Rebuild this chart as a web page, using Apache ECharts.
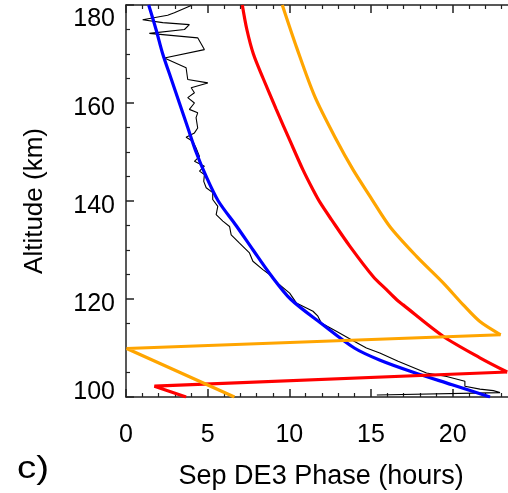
<!DOCTYPE html>
<html>
<head>
<meta charset="utf-8">
<script src="https://cdn.jsdelivr.net/npm/echarts@6/dist/echarts.min.js"></script>
<style>
html,body{margin:0;padding:0;background:#fff;}
#chart{width:508px;height:493px;}
</style>
</head>
<body>
<div id="chart"></div>
<script>
// ---- data (phase in hours, altitude in km) ----
const obsPhase = [3.99,2.96,2.55,1.02,2.25,3.88,3.58,1.43,4.39,4.80,2.35,3.68,3.78,5.01,3.99,4.19,3.78,4.19,3.88,4.39,4.29,4.39,4.19,3.68,4.09,4.29,4.50,4.19,4.80,4.50,4.80,4.76,4.91,5.31,5.31,5.62,5.52,5.93,6.34,6.44,6.95,7.56,7.77,8.38,8.79,9.40,10.02,10.43,11.45,11.75,11.96,12.88,13.80,14.72,15.54,16.66,18.40,19.63,20.75,20.75,21.67,22.49,22.90,15.36];
const obsAlt   = [179.9,178.4,177.9,177.0,176.4,176.0,175.0,174.2,173.3,170.9,169.2,167.2,164.8,164.1,163.1,162.1,161.1,160.0,158.7,158.0,157.0,154.9,153.9,153.0,152.2,150.8,149.1,148.1,147.1,146.1,145.4,144.0,142.7,141.7,140.3,138.9,137.2,135.9,134.8,133.1,131.4,129.4,127.7,126.0,125.0,122.9,121.2,119.2,117.5,116.5,115.1,113.4,111.7,110.0,109.0,107.3,104.9,104.2,103.2,102.2,101.6,101.3,100.9,100.4];

const bluePhase = [1.39,1.84,2.25,2.76,3.27,3.78,4.29,4.91,5.65,6.74,7.78,8.84,10.07,11.96,13.98,15.56,17.63,19.97,22.29];
const blueAlt   = [180,175,170,165,160,155,150,145,140,135,130,125,120,115,110,107.5,105,102.5,100];

// red: smooth profile down to the wrap point, then the wrapped segment
const redPhase = [7.12,7.40,7.80,8.40,9.20,10.08,10.83,11.45,11.90,12.58,13.70,15.13,15.95,16.56,16.97,19.42,21.67,23.34];
const redAlt   = [180,175,170,165,158.7,152,146.4,142.3,139.6,136.2,130.8,124.6,121.9,119.9,118.8,112.4,108.0,105.1];
const redWrapPhase = [23.34,1.74,3.68];
const redWrapAlt   = [105.1,102.2,100];

const orangePhase = [9.57,10.45,11.55,12.88,13.90,14.93,16.15,17.79,19.42,20.65,21.67,22.94];
const orangeAlt   = [180,171.3,161.4,152.5,146.4,141.0,134.8,128.7,123.3,118.8,115.4,112.7];
const orangeWrapPhase = [22.94,0.04,6.64];
const orangeWrapAlt   = [112.7,109.9,100];

const xTicks = [0,5,10,15,20];
const yTicks = [100,120,140,160,180];

function pairs(xs, ys){ return xs.map((x,i)=>[x, ys[i]]); }

const FONT = '"Liberation Sans", Arial, Helvetica, sans-serif';
const AX = '#222';

const chart = echarts.init(document.getElementById('chart'), null, {renderer:'canvas'});

const common = {
  axisLine:{show:true, onZero:false, lineStyle:{color:AX, width:1.5}},
  axisTick:{show:true, inside:true, length:8, lineStyle:{color:AX, width:1.5}},
  minorTick:{show:true, splitNumber:5, length:4, lineStyle:{color:AX, width:1.2}},
  splitLine:{show:false}
};

const lineBase = {type:'line', showSymbol:false, symbol:'none'};

chart.setOption({
  animation:false,
  backgroundColor:'#fff',
  grid:{left:126, top:5, width:408.3, height:392, containLabel:false, outerBoundsMode:'none'},
  xAxis:[
    Object.assign({}, common, {
      type:'value', position:'bottom', min:0, max:25, interval:5,
      name:'Sep DE3 Phase (hours)', nameLocation:'middle', nameGap:66,
      nameTextStyle:{fontFamily:FONT, fontSize:27, color:'#000', padding:[0,18,0,0]},
      axisLabel:{show:true, margin:26, fontFamily:FONT, fontSize:25, color:'#000', showMaxLabel:false,
        formatter:v=> xTicks.indexOf(v)>=0 ? String(v) : ''}
    }),
    Object.assign({}, common, {
      type:'value', position:'top', min:0, max:25, interval:5,
      axisLabel:{show:false}
    })
  ],
  yAxis:[
    Object.assign({}, common, {
      type:'value', position:'left', min:100, max:180, interval:20,
      minorTick:{show:true, splitNumber:4, length:4, lineStyle:{color:AX, width:1.2}},
      name:'Altitude (km)', nameLocation:'middle', nameGap:78,
      nameTextStyle:{fontFamily:FONT, fontSize:26, color:'#000'},
      axisLabel:{show:true, margin:11, fontFamily:FONT, fontSize:25, color:'#000',
        formatter:v=>{
          if (yTicks.indexOf(v)<0) return '';
          if (v===180) return '{t|'+v+'}';
          if (v===100) return '{b|'+v+'}';
          return '{m|'+v+'}';
        },
        rich:{
          t:{fontFamily:FONT, fontSize:25, color:'#000', padding:[28,0,0,0]},
          m:{fontFamily:FONT, fontSize:25, color:'#000', padding:[10,0,0,0]},
          b:{fontFamily:FONT, fontSize:25, color:'#000', padding:[0,0,10,0]}
        }
      }
    }),
    Object.assign({}, common, {
      type:'value', position:'right', min:100, max:180, interval:20,
      minorTick:{show:true, splitNumber:4, length:4, lineStyle:{color:AX, width:1.2}},
      axisLabel:{show:false}
    })
  ],
  graphic:[
    {type:'text', x:17, y:453, scaleX:1.2, style:{text:'c)', font:'normal 32px "Liberation Sans", Arial, sans-serif', fill:'#000'}}
  ],
  series:[
    Object.assign({}, lineBase, {data:pairs(obsPhase, obsAlt), lineStyle:{color:'#000', width:1.1}, z:2}),
    Object.assign({}, lineBase, {data:pairs(bluePhase, blueAlt), smooth:0.3, lineStyle:{color:'#0000ff', width:3.2}, z:3}),
    Object.assign({}, lineBase, {data:pairs(redPhase, redAlt), smooth:0.3, lineStyle:{color:'#ff0000', width:3.2}, z:4}),
    Object.assign({}, lineBase, {data:pairs(redWrapPhase, redWrapAlt), lineStyle:{color:'#ff0000', width:3.2}, z:4}),
    Object.assign({}, lineBase, {data:pairs(orangePhase, orangeAlt), smooth:0.3, lineStyle:{color:'#ffa500', width:3.2}, z:5}),
    Object.assign({}, lineBase, {data:pairs(orangeWrapPhase, orangeWrapAlt), lineStyle:{color:'#ffa500', width:3.2}, z:5})
  ]
});
</script>
</body>
</html>
